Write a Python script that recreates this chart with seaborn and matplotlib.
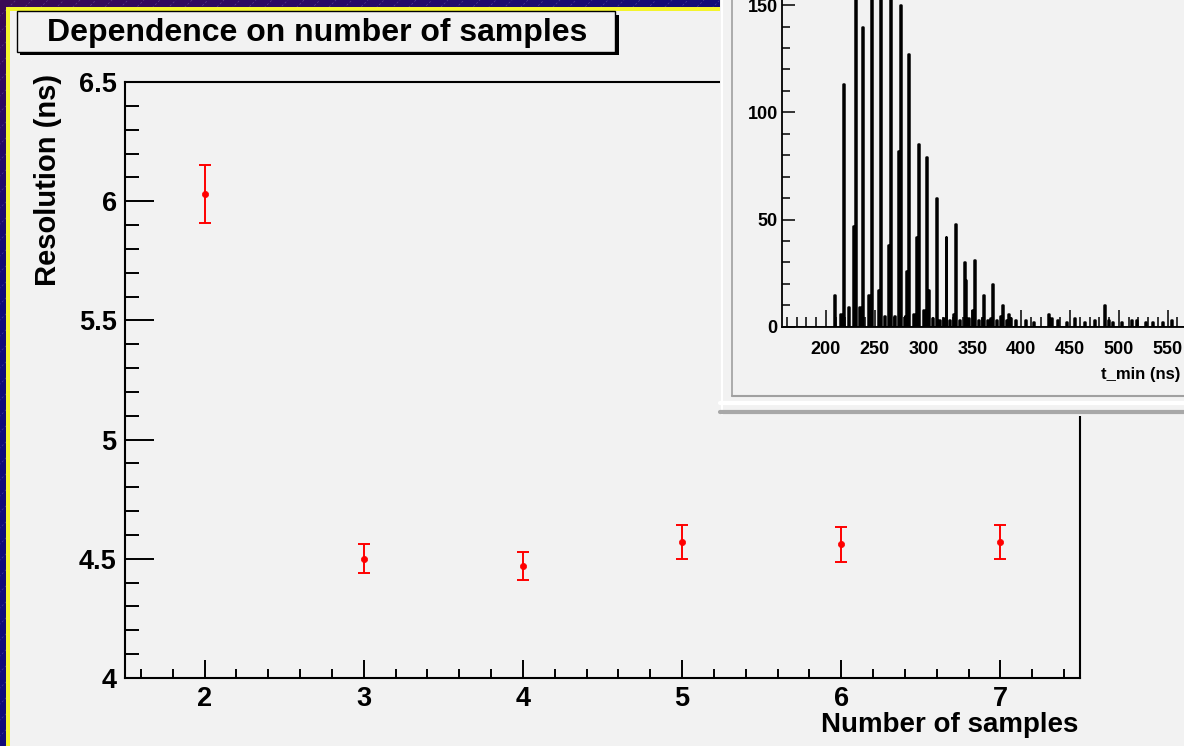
import numpy as np
import pandas as pd
import matplotlib
matplotlib.use("Agg")
import matplotlib.pyplot as plt
import seaborn as sns
from matplotlib.patches import Rectangle
from matplotlib.ticker import MultipleLocator, FormatStrFormatter

# ---------------- data ----------------
samples = [2, 3, 4, 5, 6, 7]
resolution = [6.03, 4.50, 4.47, 4.57, 4.56, 4.57]
res_error = [0.12, 0.06, 0.06, 0.072, 0.072, 0.072]

x_ticks_main = [2, 3, 4, 5, 6, 7]
y_ticks_main = [4, 4.5, 5, 5.5, 6, 6.5]

# inset histogram of t_min (ns): bin position and count
hist_t = [209, 215, 218, 223, 228, 230, 234, 237, 244, 247, 254, 256, 260, 264, 266,
          270, 274, 276, 281, 283, 285, 290, 293, 295, 300, 303, 305, 309, 313, 316,
          320, 323, 327, 331, 333, 337, 342, 343, 346, 350, 352, 356, 360, 361, 366,
          369, 371, 375, 379, 381, 385, 387, 389, 394, 404, 413, 428, 431, 437, 446,
          455, 465, 475, 485, 489, 494, 503, 513, 518, 527, 535, 545, 554]
hist_n = [15, 6, 113, 9, 47, 175, 9, 140, 15, 170, 17, 190, 5, 38, 160,
          5, 82, 150, 5, 26, 127, 6, 42, 85, 8, 79, 17, 4, 60, 3,
          4, 42, 3, 6, 48, 3, 30, 22, 4, 8, 31, 3, 4, 15, 3,
          4, 20, 3, 5, 10, 3, 6, 4, 3, 3, 2, 6, 4, 3, 2,
          4, 2, 3, 10, 3, 2, 2, 3, 3, 2, 2, 2, 3]
hist_xticks = [200, 250, 300, 350, 400, 450, 500, 550]
hist_yticks = [0, 50, 100, 150]

# ---------------- style ----------------
sns.set_style("ticks")
plt.rcParams["font.family"] = ["Liberation Sans", "DejaVu Sans"]
plt.rcParams["font.weight"] = "bold"
for k in ("text.color", "axes.labelcolor", "xtick.color", "ytick.color"):
    plt.rcParams[k] = "black"

W, H = 1184, 746
fig = plt.figure(figsize=(W / 100, H / 100), dpi=100)
fig.patch.set_facecolor("#10107a")


def px_axes(z):
    a = fig.add_axes([0, 0, 1, 1], zorder=z)
    a.set_xlim(0, W)
    a.set_ylim(H, 0)
    a.axis("off")
    a.patch.set_alpha(0)
    return a


# ---------------- background canvas ----------------
bg = px_axes(0)
yy, xx = np.mgrid[0:H:4, 0:W:4]
s = np.clip((xx + 2.5 * yy) / 750.0, 0, 1)[..., None]
purple = np.array([0x3c, 0x0a, 0x55]) / 255.0
navy = np.array([0x10, 0x0c, 0x7a]) / 255.0
img = purple * (1 - s) + navy * s
bg.imshow(img, extent=(0, W, H, 0), aspect="auto", interpolation="bilinear", zorder=0)
for c in range(-H, W, 16):
    bg.plot([c, c + H], [H, 0], color="#a89ad8", lw=0.5, alpha=0.35,
            dashes=(3, 3), zorder=0.5)
bg.set_xlim(0, W)
bg.set_ylim(H, 0)
bg.add_patch(Rectangle((6, 7), W, H, facecolor="#f4f42c", edgecolor="none", zorder=1))
bg.add_patch(Rectangle((10, 11), W, H, facecolor="#f2f2f2", edgecolor="none", zorder=1.1))
# title pave with shadow
bg.add_patch(Rectangle((20, 15), 599, 40, facecolor="black", edgecolor="none", zorder=2))
bg.add_patch(Rectangle((17, 11), 598, 41, facecolor="#f2f2f2", edgecolor="black",
                       lw=1.0, zorder=2.1))
bg.text(47, 33, "Dependence on number of samples", fontsize=23, fontweight="bold",
        ha="left", va="center", zorder=3)

# ---------------- main plot ----------------
ax = fig.add_axes([125 / W, 1 - 678 / H, 955 / W, 596 / H], zorder=2)
ax.set_facecolor("none")
ax.errorbar(samples, resolution, yerr=res_error, fmt="none", ecolor="red",
            elinewidth=1.4, capsize=4, capthick=1.4, zorder=3)
sns.scatterplot(x=samples, y=resolution, color="red", edgecolor="red", s=20,
                marker="o", linewidth=0.5, ax=ax, zorder=4)
ax.set_xlim(1.5, 7.5)
ax.set_ylim(4, 6.5)
ax.set_xticks(x_ticks_main)
ax.set_yticks(y_ticks_main)
ax.xaxis.set_minor_locator(MultipleLocator(0.2))
ax.yaxis.set_minor_locator(MultipleLocator(0.1))
ax.yaxis.set_major_formatter(FormatStrFormatter("%g"))
for sp in ax.spines.values():
    sp.set_color("black")
    sp.set_linewidth(1.5)
ax.tick_params(which="both", direction="in", top=False, right=False,
               width=1.4, color="black", labelcolor="black")
ax.tick_params(axis="x", which="major", length=12.9, pad=6, labelsize=19.5)
ax.tick_params(axis="x", which="minor", length=6.4)
ax.tick_params(axis="y", which="major", length=20.6, pad=6, labelsize=19.5)
ax.tick_params(axis="y", which="minor", length=10.3)
ax.set_ylabel("Resolution (ns)", fontsize=21, fontweight="bold", va="center")
ax.yaxis.set_label_coords((48 - 125) / 955, (678 - 180) / 596)
ax.set_xlabel("Number of samples", fontsize=20, fontweight="bold", loc="right",
              va="center")
ax.xaxis.set_label_coords((1078 - 125) / 955, (678 - 725) / 596)

# ---------------- inset window ----------------
ov = px_axes(5)
ov.add_patch(Rectangle((720, -5), 470, 421, facecolor="#f2f2f2", edgecolor="none"))
ov.plot([721.5, 721.5], [0, 414], color="white", lw=1.5)
ov.plot([732, 732], [0, 396], color="#a0a0a0", lw=1.2)
ov.plot([732, W], [396, 396], color="#a0a0a0", lw=1.5)
ov.plot([720, W], [403, 403], color="white", lw=3)
ov.plot([720, W], [412, 412], color="#a8a8a8", lw=3)
ov.text(1101, 375, "t_min (ns)", fontsize=12, fontweight="bold", ha="left",
        va="center")

axi = fig.add_axes([782 / W, 1 - 326.7 / H, (W - 782) / W, 326.7 / H], zorder=6)
axi.set_facecolor("none")
hist_df = pd.DataFrame({"t_min": hist_t, "count": hist_n})
sns.histplot(data=hist_df, x="t_min", weights="count", binwidth=1.0,
             binrange=(150.5, 600.5), element="step", fill=False, color="black",
             linewidth=1.8, ax=axi)
axi.set_xlim(155, 566.8)
axi.set_ylim(0, 152.4)
axi.set_xlabel("")
axi.set_ylabel("")
axi.set_xticks(hist_xticks)
axi.set_yticks(hist_yticks)
axi.xaxis.set_minor_locator(MultipleLocator(10))
axi.yaxis.set_minor_locator(MultipleLocator(10))
axi.spines["top"].set_visible(False)
axi.spines["right"].set_visible(False)
for k in ("left", "bottom"):
    axi.spines[k].set_color("black")
    axi.spines[k].set_linewidth(1.3)
axi.tick_params(which="both", direction="in", top=False, right=False,
                width=1.1, color="black", labelcolor="black", labelsize=13)
axi.tick_params(axis="x", which="major", length=12.6, pad=10)
axi.tick_params(axis="x", which="minor", length=7.2)
axi.tick_params(axis="y", which="major", length=9.4, pad=3)
axi.tick_params(axis="y", which="minor", length=5.8)

fig.savefig("out.png", dpi=100, facecolor=fig.get_facecolor())
